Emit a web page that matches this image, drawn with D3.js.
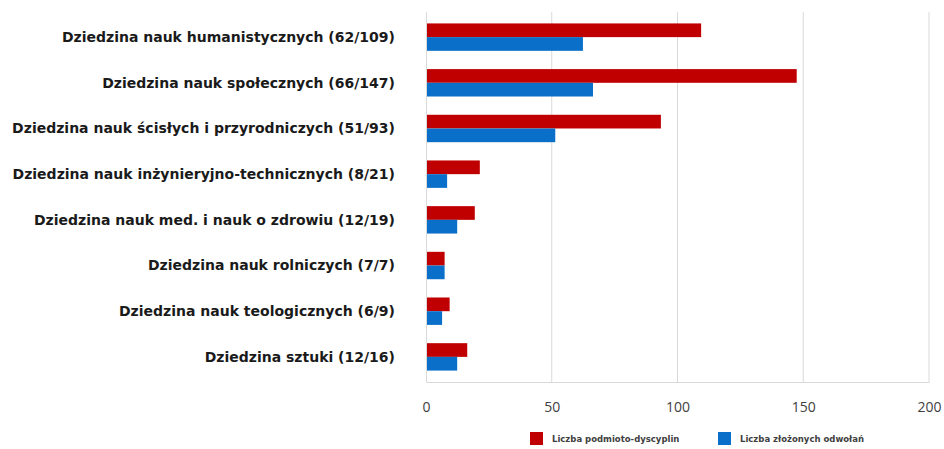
<!DOCTYPE html>
<html>
<head>
<meta charset="utf-8">
<script src="https://cdn.jsdelivr.net/npm/d3@7"></script>
<style>
  body { margin: 0; background: #fff; }
  svg { display: block; }
</style>
</head>
<body>
<div id="chart"></div>
<script>
// categories and series
const categories = [
  "Dziedzina nauk humanistycznych (62/109)",
  "Dziedzina nauk społecznych (66/147)",
  "Dziedzina nauk ścisłych i przyrodniczych (51/93)",
  "Dziedzina nauk inżynieryjno-technicznych (8/21)",
  "Dziedzina nauk med. i nauk o zdrowiu (12/19)",
  "Dziedzina nauk rolniczych (7/7)",
  "Dziedzina nauk teologicznych (6/9)",
  "Dziedzina sztuki (12/16)"
];
const podmiotoDyscypliny = [109, 147, 93, 21, 19, 7, 9, 16];
const odwolania = [62, 66, 51, 8, 12, 7, 6, 12];
const seriesNames = ["Liczba podmioto-dyscyplin", "Liczba złożonych odwołań"];
const seriesColors = ["#c00000", "#0a6fc8"];
const xTicks = [0, 50, 100, 150, 200];

const width = 944, height = 449;
const margin = {top: 12, right: 15, bottom: 67, left: 426};
const innerW = width - margin.left - margin.right;
const innerH = height - margin.top - margin.bottom;

const svg = d3.select("#chart")
  .append("svg")
    .attr("width", width)
    .attr("height", height)
  .append("g")
    .attr("transform", `translate(${margin.left},${margin.top})`);

// X axis scale
const x = d3.scaleLinear()
  .domain([0, 200])
  .range([0, 503]);

// Y band for categories
const y = d3.scaleBand()
  .domain(categories)
  .range([0, innerH])
  .paddingInner(0.4)
  .paddingOuter(0.25);

const ySub = d3.scaleBand()
  .domain([0, 1])
  .range([0, y.bandwidth()]);

// gridlines
svg.append("g")
  .selectAll("line")
  .data(xTicks.slice(1))
  .join("line")
    .attr("x1", d => x(d))
    .attr("x2", d => x(d))
    .attr("y1", 0)
    .attr("y2", innerH)
    .attr("stroke", "#d9d9d9")
    .attr("stroke-width", 1);

// left axis line
svg.append("line")
  .attr("x1", 0.5).attr("x2", 0.5)
  .attr("y1", 0).attr("y2", innerH)
  .attr("stroke", "#d9d9d9");

// bottom axis
const xAxis = svg.append("g")
  .attr("transform", `translate(0,${innerH})`)
  .call(d3.axisBottom(x).tickValues(xTicks).tickSize(0).tickPadding(20));
xAxis.select(".domain").attr("stroke", "#d9d9d9");
xAxis.selectAll("text")
  .style("font-family", "'Open Sans', sans-serif")
  .style("font-size", "14px")
  .attr("fill", "#404040");

// category labels
svg.append("g")
  .selectAll("text")
  .data(categories)
  .join("text")
    .attr("x", -31)
    .attr("y", d => y(d) + y.bandwidth() / 2)
    .attr("dy", "0.35em")
    .attr("text-anchor", "end")
    .style("font-family", "'DejaVu Sans', sans-serif")
    .style("font-weight", "bold")
    .style("font-size", "14px")
    .attr("fill", "#1a1a1a")
    .text(d => d);

// bars
const seriesData = [podmiotoDyscypliny, odwolania];
seriesData.forEach((vals, s) => {
  svg.append("g")
    .selectAll("rect")
    .data(vals)
    .join("rect")
      .attr("x", 1)
      .attr("y", (d, i) => y(categories[i]) + ySub(s))
      .attr("width", d => x(d))
      .attr("height", ySub.bandwidth())
      .attr("fill", seriesColors[s]);
});

// legend
const legend = d3.select("svg").append("g")
  .attr("transform", "translate(530,432)");
const legendX = [0, 188];
seriesNames.forEach((name, i) => {
  const g = legend.append("g").attr("transform", `translate(${legendX[i]},0)`);
  g.append("rect")
    .attr("width", 13).attr("height", 13)
    .attr("fill", seriesColors[i]);
  g.append("text")
    .attr("x", 22)
    .attr("y", 7)
    .attr("dy", "0.35em")
    .style("font-family", "'DejaVu Sans', sans-serif")
    .style("font-weight", "bold")
    .style("font-size", "8.5px")
    .attr("fill", "#404040")
    .text(name);
});
</script>
</body>
</html>
